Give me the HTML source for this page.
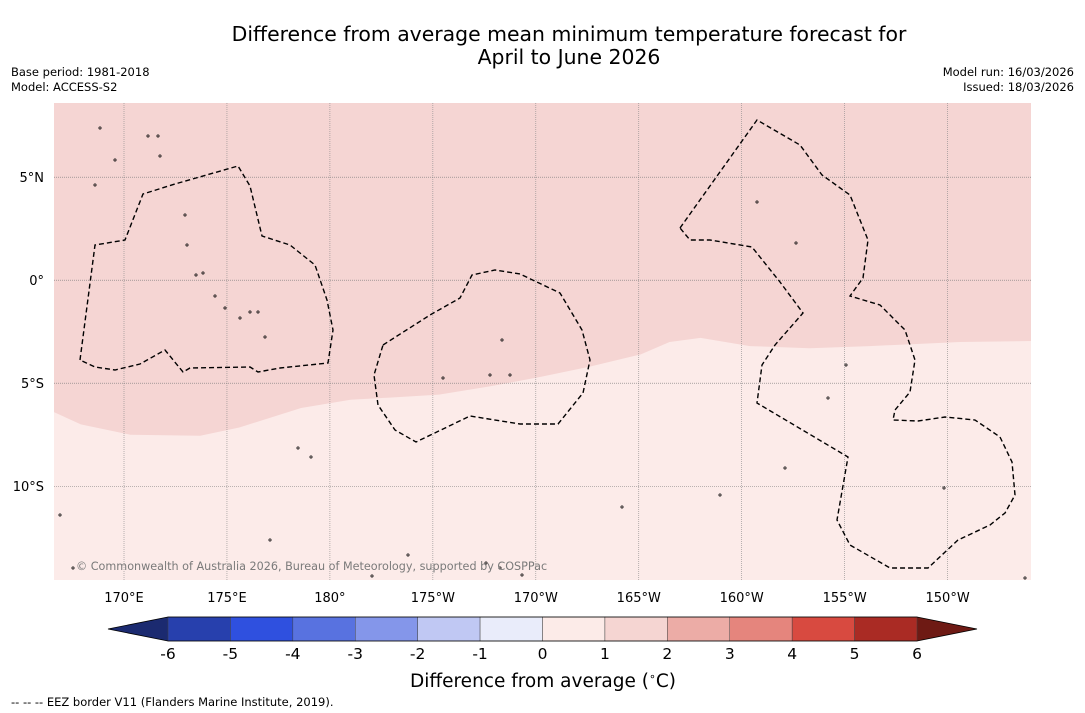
<!DOCTYPE html>
<html><head><meta charset="utf-8"><style>
body{margin:0;background:#fff;width:1085px;height:713px;overflow:hidden;font-family:"Liberation Sans","DejaVu Sans",sans-serif;}
svg{display:block}
</style></head><body>
<svg width="1085" height="713" xmlns="http://www.w3.org/2000/svg" font-family="DejaVu Sans, Liberation Sans, sans-serif">
<text x="569" y="41" text-anchor="middle" font-size="20.4" fill="#000">Difference from average mean minimum temperature forecast for</text>
<text x="569" y="64" text-anchor="middle" font-size="20.4" fill="#000">April to June 2026</text>
<text x="11" y="76" font-size="11.5">Base period: 1981-2018</text>
<text x="11" y="91" font-size="11.5">Model: ACCESS-S2</text>
<text x="1074" y="76" font-size="11.5" text-anchor="end">Model run: 16/03/2026</text>
<text x="1074" y="91" font-size="11.5" text-anchor="end">Issued: 18/03/2026</text>
<g id="map"></g>
<g id="cbar"></g>
<text x="543" y="687" text-anchor="middle" font-size="18.5">Difference from average (<tspan font-size="11" dy="-7">∘</tspan><tspan dy="7">C)</tspan></text>
<text x="11" y="706" font-size="11.5">--  --  -- EEZ border V11 (Flanders Marine Institute, 2019).</text>
</svg>
<script>
const NS="http://www.w3.org/2000/svg";
const lonMin=166.6, lonMax=214.05, latMax=8.6, latMin=-14.55;
const X0=54,X1=1031,Y0=103,Y1=580;
function xs(lon){return X0+(lon-lonMin)/(lonMax-lonMin)*(X1-X0);}
function ys(lat){return Y0+(latMax-lat)/(latMax-latMin)*(Y1-Y0);}
const bndLon=[166.6,167.9,170.3,173.7,175.6,178.6,181.0,182.9,185.3,187.8,190.2,192.6,195.1,196.5,198.0,200.4,203.3,206.2,210.6,214.05];
const bndLat=[-6.4,-7.0,-7.5,-7.55,-7.15,-6.2,-5.8,-5.7,-5.55,-5.15,-4.7,-4.2,-3.6,-3.0,-2.8,-3.2,-3.3,-3.2,-3.0,-2.95];
const xTicks=[170,175,180,185,190,195,200,205,210];
const xLabels=["170°E","175°E","180°","175°W","170°W","165°W","160°W","155°W","150°W"];
const yTicks=[5,0,-5,-10];
const yLabels=["5°N","0°","5°S","10°S"];
const cbLevels=[-6,-5,-4,-3,-2,-1,0,1,2,3,4,5,6];
const cbColors=["#2740ad","#2f50df","#5872e0","#8496ea","#c0c8f3","#e9ecfa","#fcebe8","#f5d5d2","#ecaca6","#e5857d","#d84a40","#aa2b24"];
const cbUnder="#1b2a70", cbOver="#6e1a14";

const map=document.getElementById('map');
function el(t,a,p){const e=document.createElementNS(NS,t);for(const k in a)e.setAttribute(k,a[k]);(p||map).appendChild(e);return e;}
let r=el('rect',{x:X0,y:Y0,width:X1-X0,height:Y1-Y0,fill:'#fcebe9'});


let d='M'+xs(lonMin)+','+ys(latMax);
bndLon.forEach((lo,i)=>{d+=' L'+xs(lo).toFixed(1)+','+ys(bndLat[i]).toFixed(1);});
d+=' L'+xs(lonMax)+','+ys(latMax)+' Z';
let p=el('path',{d:d,fill:'#f5d5d3'});


xTicks.forEach((lo,i)=>{
  let l=el('line',{x1:xs(lo),x2:xs(lo),y1:Y0,y2:Y1,stroke:'#888','stroke-width':0.6,'stroke-dasharray':'1,1'});
  
  
  let t=el('text',{x:xs(lo),y:602,'text-anchor':'middle','font-size':13});t.textContent=xLabels[i];
  
  
});
yTicks.forEach((la,i)=>{
  let l=el('line',{x1:X0,x2:X1,y1:ys(la),y2:ys(la),stroke:'#777','stroke-width':0.6,'stroke-dasharray':'1,1'});
  
  
  let t=el('text',{x:44,y:ys(la)+5,'text-anchor':'end','font-size':13});t.textContent=yLabels[i];
  
  
});
const eez=[
"M80,360 L95,245 L125,240 L143,194 L175,184 L238,166 L250,186 L262,236 L290,245 L315,265 L327,300 L333,330 L328,363 L280,368 L258,372 L250,367 L190,368 L183,372 L165,350 L140,364 L115,370 L95,367 Z",
"M383,345 L430,315 L460,298 L472,275 L495,270 L520,274 L560,293 L582,330 L590,360 L583,393 L558,424 L520,424 L470,416 L416,442 L395,430 L378,405 L374,375 Z",
"M680,228 L757,120 L800,145 L822,175 L850,195 L868,240 L863,278 L850,296 L880,305 L905,330 L915,360 L910,392 L895,410 L893,420 L918,421 L945,417 L975,420 L1000,437 L1012,462 L1015,495 L1005,513 L990,525 L958,540 L928,568 L890,568 L850,545 L837,520 L848,457 L757,403 L762,365 L775,345 L803,313 L780,282 L752,247 L710,240 L690,240 Z"];
eez.forEach(dd=>{let e=el('path',{d:dd,fill:'none',stroke:'#000','stroke-width':1.4,'stroke-dasharray':'5,3'});

});
const isl=[[148,136],[158,136],[160,156],[185,215],[187,245],[196,275],[203,273],[215,296],[225,308],[240,318],[250,312],[258,312],[265,337],[502,340],[490,375],[443,378],[510,375],[757,202],[796,243],[785,468],[720,495],[622,507],[60,515],[73,568],[486,563],[500,568],[522,575],[408,555],[372,576],[270,540],[95,185],[115,160],[100,128],[846,365],[828,398],[944,488],[311,457],[298,448],[1025,578]];
isl.forEach(q=>{let c=el('circle',{cx:q[0],cy:q[1],r:1.1,fill:'none',stroke:'#000','stroke-width':0.8});

});
let cp=el('text',{x:76,y:570,'font-size':11.2,fill:'#7a7a7a'});cp.textContent='© Commonwealth of Australia 2026, Bureau of Meteorology, supported by COSPPac';


const cb=document.getElementById('cbar');
const CX0=168,CX1=917,CY0=617,CY1=641;
function cx(v){return CX0+(v-cbLevels[0])/(cbLevels[cbLevels.length-1]-cbLevels[0])*(CX1-CX0);}
let u=el('polygon',{points:`${CX0},${CY0} ${CX0},${CY1} 108,629`,fill:cbUnder},cb);


let o=el('polygon',{points:`${CX1},${CY0} ${CX1},${CY1} 977,629`,fill:cbOver},cb);


cbColors.forEach((c,i)=>{
  let s=el('rect',{x:cx(cbLevels[i]),y:CY0,width:cx(cbLevels[i+1])-cx(cbLevels[i]),height:CY1-CY0,fill:c,stroke:'#444','stroke-width':0.5},cb);
  
  
});
let ol=el('polygon',{points:`108,629 ${CX0},${CY0} ${CX1},${CY0} 977,629 ${CX1},${CY1} ${CX0},${CY1}`,fill:'none',stroke:'#000','stroke-width':0.8},cb);


cbLevels.forEach(v=>{
  let t=el('text',{x:cx(v),y:659,'text-anchor':'middle','font-size':15.5},cb);t.textContent=v<0?'-'+(-v):String(v);
  
  
});
</script>
</body></html>
